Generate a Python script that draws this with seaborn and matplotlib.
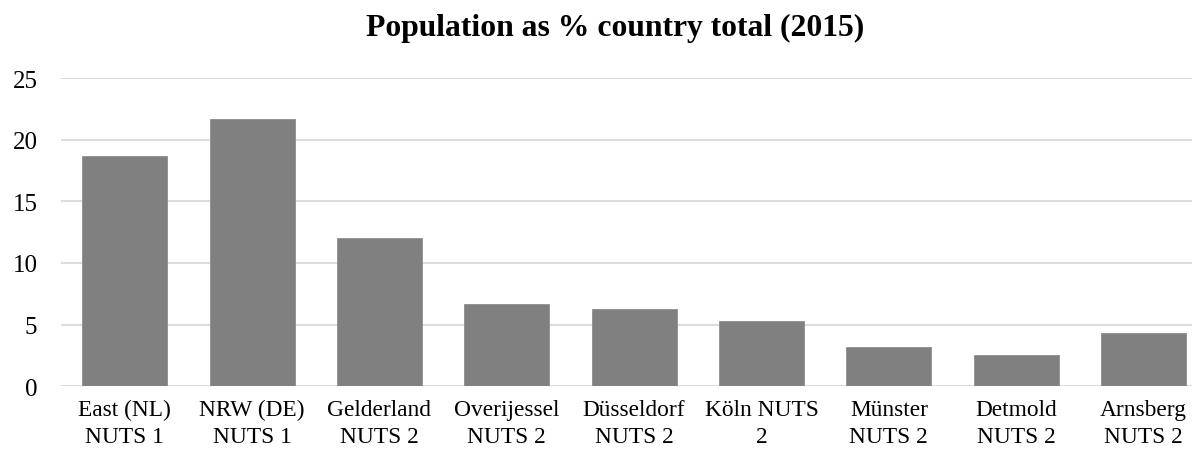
import matplotlib
matplotlib.use("Agg")
import matplotlib.pyplot as plt
import seaborn as sns
import pandas as pd

# Regions and their share of the national population (%), 2015
regions = [
    "East (NL)\nNUTS 1",
    "NRW (DE)\nNUTS 1",
    "Gelderland\nNUTS 2",
    "Overijessel\nNUTS 2",
    "Düsseldorf\nNUTS 2",
    "Köln NUTS\n2",
    "Münster\nNUTS 2",
    "Detmold\nNUTS 2",
    "Arnsberg\nNUTS 2",
]
population_share = [18.7, 21.7, 12.0, 6.7, 6.3, 5.3, 3.2, 2.5, 4.35]
y_ticks = [0, 5, 10, 15, 20, 25]

df = pd.DataFrame({"region": regions, "share": population_share})

sns.set_theme(style="white")
plt.rcParams["font.family"] = ["Liberation Serif", "DejaVu Serif"]

fig = plt.figure(figsize=(11.92, 4.52), dpi=100)
ax = fig.add_axes([61 / 1192, 1 - 387.3 / 452, 1 - 61 / 1192, (387.3 - 79) / 452])

sns.barplot(data=df, x="region", y="share", color="#808080", saturation=1,
            width=0.667, edgecolor="#8f8f8f", linewidth=0.6, ax=ax, zorder=3)

ax.set_ylim(0, 25)
ax.set_xlim(-0.5, 8.38)
ax.set_yticks(y_ticks)
ax.grid(axis="y", color="#d9d9d9", linewidth=1.3, zorder=0)
ax.grid(axis="x", visible=False)
for s in ax.spines.values():
    s.set_visible(False)
ax.set_xlabel("")
ax.set_ylabel("")
ax.tick_params(axis="both", length=0, colors="black")
ax.tick_params(axis="y", pad=17, labelsize=18)
ax.tick_params(axis="x", pad=9, labelsize=16.8)
for lbl in ax.get_xticklabels():
    lbl.set_linespacing(1.38)
    lbl.set_ha("center")

fig.text(615 / 1192, 1 - 28 / 452, "Population as % country total (2015)",
         ha="center", va="center", fontsize=22.8, fontweight="bold", color="black")

fig.savefig("out.png", dpi=100)
